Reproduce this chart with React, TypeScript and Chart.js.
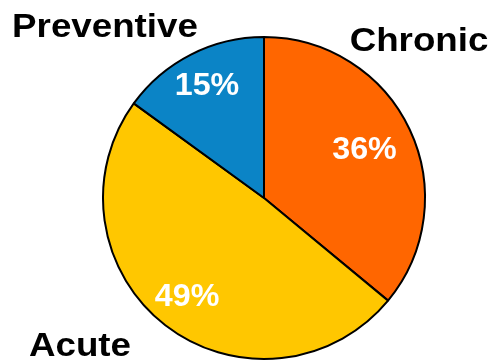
import React, { useEffect, useRef } from "react";
import { Chart, registerables } from "chart.js";

Chart.register(...registerables);

const categories = ["Chronic", "Acute", "Preventive"];
const shares = [36, 49, 15];
const percentLabels = ["36%", "49%", "15%"];
const sliceColors = ["#FF6600", "#FFC700", "#0B84C6"];

// layout of text (not data)
const percentRadiusFactor = [0.69, 0.78, 0.78];
const categoryAnchors = [
  { x: 419, y: 51 },
  { x: 80, y: 356 },
  { x: 105, y: 37 },
];

function drawStretched(ctx: CanvasRenderingContext2D, text: string, x: number, y: number, sx: number) {
  ctx.save();
  ctx.translate(x, y);
  ctx.scale(sx, 1);
  ctx.fillText(text, 0, 0);
  ctx.restore();
}

const labelPlugin = {
  id: "pieLabels",
  afterDraw(chart: any) {
    const ctx = chart.ctx as CanvasRenderingContext2D;
    const arcs = chart.getDatasetMeta(0).data;
    ctx.save();
    ctx.textAlign = "center";
    arcs.forEach((arc: any, i: number) => {
      const { x, y, startAngle, endAngle, outerRadius } = arc.getProps(
        ["x", "y", "startAngle", "endAngle", "outerRadius"],
        true
      );
      const mid = (startAngle + endAngle) / 2;
      const r = outerRadius * percentRadiusFactor[i];
      const px = x + Math.cos(mid) * r;
      const py = y + Math.sin(mid) * r;
      ctx.fillStyle = "#FFFFFF";
      ctx.font = "bold 31px 'Liberation Sans', Arial, sans-serif";
      ctx.textBaseline = "middle";
      drawStretched(ctx, percentLabels[i], px, py, 1.04);
      ctx.fillStyle = "#000000";
      ctx.font = "bold 34px 'Liberation Sans', Arial, sans-serif";
      ctx.textBaseline = "alphabetic";
      const a = categoryAnchors[i];
      drawStretched(ctx, categories[i], a.x, a.y, 1.08);
    });
    ctx.restore();
  },
};

export default function App() {
  const ref = useRef<HTMLCanvasElement | null>(null);
  useEffect(() => {
    if (!ref.current) return;
    const chart = new Chart(ref.current, {
      type: "pie",
      data: {
        labels: categories,
        datasets: [
          {
            data: shares,
            backgroundColor: sliceColors,
            borderColor: "#000000",
            borderWidth: 2,
            hoverBorderWidth: 2,
          },
        ],
      },
      options: {
        responsive: false,
        animation: false,
        layout: { padding: { left: 102, right: 65, top: 35, bottom: 0 } },
        plugins: {
          legend: { display: false },
          tooltip: { enabled: false },
        },
      },
      plugins: [labelPlugin],
    });
    return () => chart.destroy();
  }, []);
  return (
    <div style={{ position: "fixed", left: 0, top: 0, width: 491, height: 361, background: "#fff" }}>
      <canvas ref={ref} width={491} height={361} style={{ display: "block" }} />
    </div>
  );
}
